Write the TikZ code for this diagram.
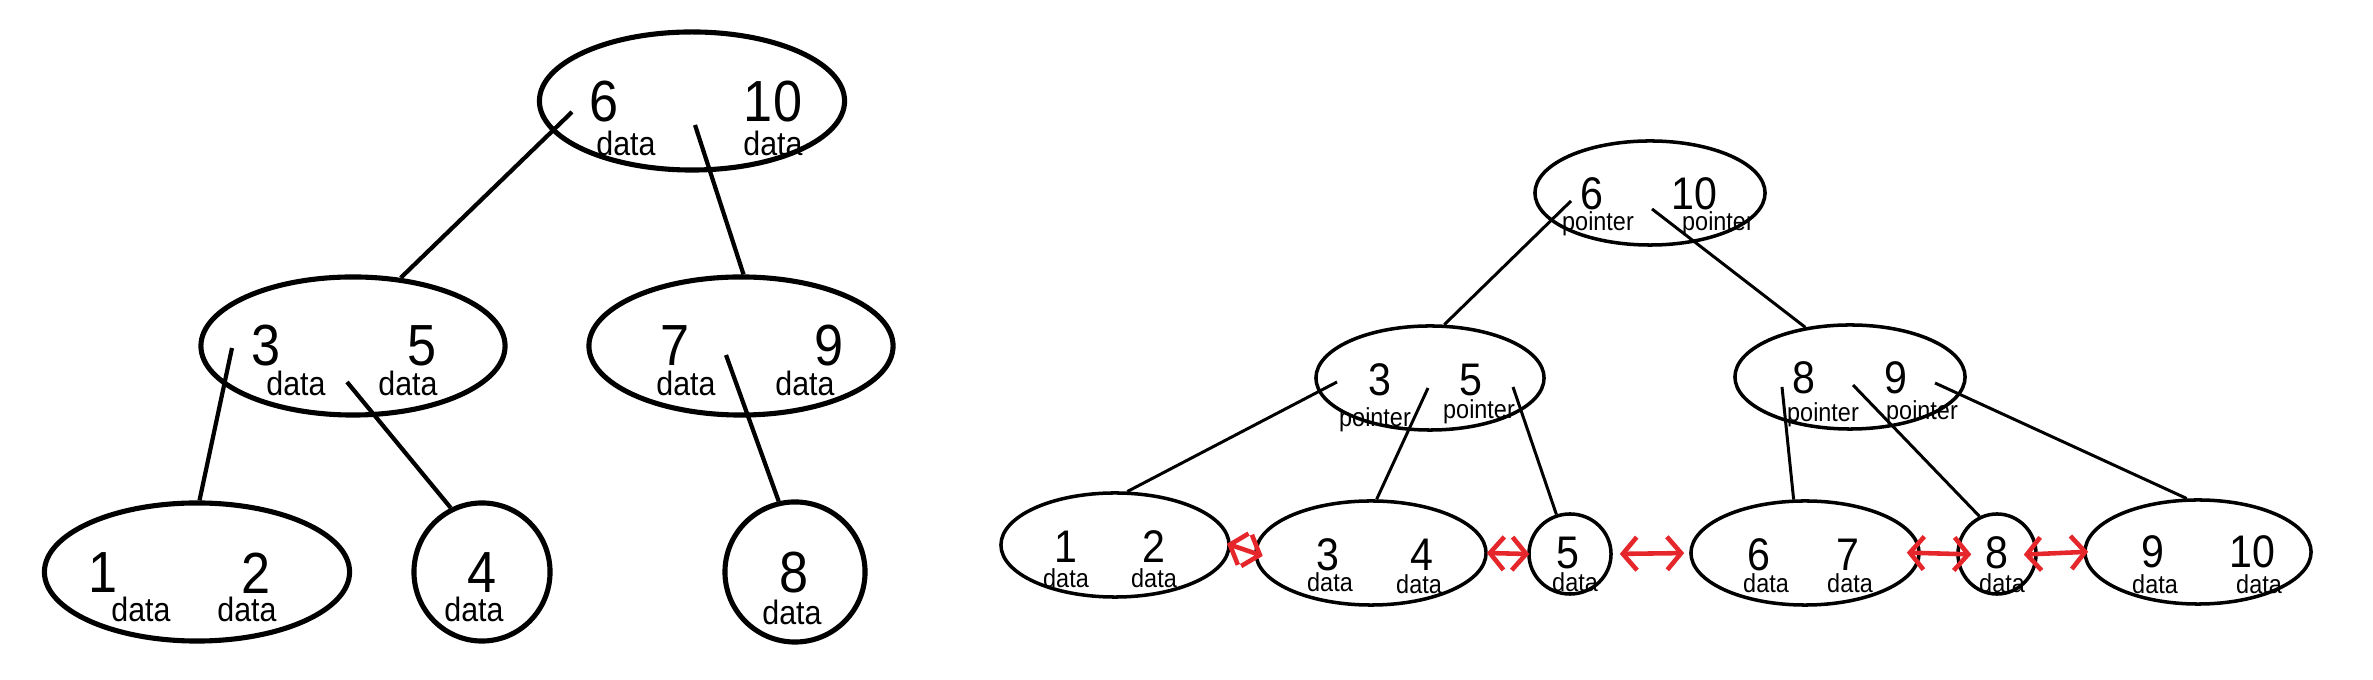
\documentclass[tikz,border=0pt]{standalone}
\usepackage{fontspec}
\setmainfont{Liberation Sans}[FakeStretch=0.9]
\usetikzlibrary{shapes.geometric,arrows.meta}
\definecolor{arrred}{HTML}{E5262B}
\begin{document}
\begin{tikzpicture}[x=0.01cm,y=-0.01cm,
  lell/.style={ellipse,draw,line width=1.45pt,inner sep=0pt},
  rell/.style={ellipse,draw,line width=1.0pt,inner sep=0pt},
  lnum/.style={inner sep=0pt,font=\fontsize{16.5}{16.5}\selectfont},
  ldat/.style={inner sep=0pt,font=\fontsize{9.6}{9.6}\selectfont},
  rnum/.style={inner sep=0pt,font=\fontsize{13}{13}\selectfont},
  rdat/.style={inner sep=0pt,font=\fontsize{7.4}{7.4}\selectfont},
  ledge/.style={line width=1.2pt},
  redge/.style={line width=0.85pt},
  link/.style={draw=arrred,line width=1.3pt,{Straight Barb[length=4pt,width=9.4pt]}-{Straight Barb[length=4pt,width=9.4pt]}}
]
\useasboundingbox[fill=white] (0,0) rectangle (2373,680);

% ---------- left tree ----------
\node[lell,minimum width=3.05cm,minimum height=1.38cm] (LR) at (692,101) {};
\node[lell,minimum width=3.04cm,minimum height=1.38cm] (N35) at (353,346) {};
\node[lell,minimum width=3.04cm,minimum height=1.38cm] (N79) at (741,346) {};
\node[lell,minimum width=3.05cm,minimum height=1.38cm] (L12) at (197,572) {};
\node[lell,minimum width=1.36cm,minimum height=1.38cm] (L4) at (482,572) {};
\node[lell,minimum width=1.40cm,minimum height=1.40cm] (L8) at (795,572) {};

\node[lnum] (tLR1) at (604,102) {6};
\node[lnum] (tLR2) at (773,102) {10};
\node[ldat] (dLR1) at (626,143) {data};
\node[ldat] (dLR2) at (773,143) {data};
\node[lnum] (tN1) at (266,346) {3};
\node[lnum] (tN2) at (422,346) {5};
\node[ldat] (dN1) at (296,383) {data};
\node[ldat] (dN2) at (408,383) {data};
\node[lnum] (tM1) at (675,346) {7};
\node[lnum] (tM2) at (829,346) {9};
\node[ldat] (dM1) at (686,383) {data};
\node[ldat] (dM2) at (805,383) {data};
\node[lnum] (tL1) at (103,573) {1};
\node[lnum] (tL2) at (256,573) {2};
\node[ldat] (dL1) at (141,609) {data};
\node[ldat] (dL2) at (247,609) {data};
\node[lnum] (tL4) at (482,573) {4};
\node[ldat] (dL4) at (474,609) {data};
\node[lnum] (tL8) at (794,573) {8};
\node[ldat] (dL8) at (792,612) {data};

\coordinate (e1) at (572,112);
\coordinate (e2) at (695,125);
\coordinate (e3) at (232,348);
\coordinate (e4) at (347,382);
\coordinate (e5) at (726,355);
\draw[ledge] (e1) -- (N35.55);
\draw[ledge] (e2) -- (N79.88);
\draw[ledge] (e3) -- (L12.88);
\draw[ledge] (e4) -- (L4.116);
\draw[ledge] (e5) -- (L8.103);

% ---------- right tree ----------
\node[rell,minimum width=2.30cm,minimum height=1.04cm] (R) at (1650,193) {};
\node[rell,minimum width=2.28cm,minimum height=1.04cm] (R35) at (1430,378) {};
\node[rell,minimum width=2.30cm,minimum height=1.04cm] (R89) at (1850,377) {};
\node[rell,minimum width=2.28cm,minimum height=1.04cm] (RL12) at (1115,545) {};
\node[rell,minimum width=2.30cm,minimum height=1.04cm] (RL34) at (1371,553) {};
\node[rell,minimum width=0.82cm,minimum height=0.80cm] (RL5) at (1570,554) {};
\node[rell,minimum width=2.28cm,minimum height=1.04cm] (RL67) at (1805,553) {};
\node[rell,minimum width=0.78cm,minimum height=0.80cm] (RL8) at (1997,554) {};
\node[rell,minimum width=2.26cm,minimum height=1.04cm] (RL910) at (2198,552) {};

\node[rnum] (uR1) at (1592,194) {6};
\node[rnum] (uR2) at (1694,194) {10};
\node[rdat] (pR1) at (1598,224) {pointer};
\node[rdat] (pR2) at (1718,224) {pointer};
\node[rnum] (uA1) at (1380,380) {3};
\node[rnum] (uA2) at (1471,380) {5};
\node[rdat] (pA1) at (1375,420) {pointer};
\node[rdat] (pA2) at (1479,412) {pointer};
\node[rnum] (uB1) at (1804,378) {8};
\node[rnum] (uB2) at (1896,378) {9};
\node[rdat] (pB1) at (1823,415) {pointer};
\node[rdat] (pB2) at (1922,413) {pointer};

\node[rnum] (v1) at (1066,547) {1};
\node[rnum] (v2) at (1154,547) {2};
\node[rdat] (w1) at (1066,578) {data};
\node[rdat] (w2) at (1154,578) {data};
\node[rnum] (v3) at (1328,555) {3};
\node[rnum] (v4) at (1422,555) {4};
\node[rdat] (w3) at (1330,582) {data};
\node[rdat] (w4) at (1419,584) {data};
\node[rnum] (v5) at (1568,553) {5};
\node[rdat] (w5) at (1575,582) {data};
\node[rnum] (v6) at (1759,555) {6};
\node[rnum] (v7) at (1848,555) {7};
\node[rdat] (w6) at (1766,583) {data};
\node[rdat] (w7) at (1850,583) {data};
\node[rnum] (v8) at (1997,553) {8};
\node[rdat] (w8) at (2002,583) {data};
\node[rnum] (v9) at (2153,552) {9};
\node[rnum] (v10) at (2252,552) {10};
\node[rdat] (w9) at (2155,584) {data};
\node[rdat] (w10) at (2259,584) {data};

\coordinate (f1) at (1571,201);
\coordinate (f2) at (1652,209);
\coordinate (f3) at (1337,382);
\coordinate (f4) at (1428,388);
\coordinate (f5) at (1513,387);
\coordinate (f6) at (1782,387);
\coordinate (f7) at (1853,385);
\coordinate (f8) at (1935,383);
\draw[redge] (f1) -- (R35.75);
\draw[redge] (f2) -- (R89.132);
\draw[redge] (f3) -- (RL12.77);
\draw[redge] (f4) -- (RL34.84);
\draw[redge] (f5) -- (RL5.109);
\draw[redge] (f6) -- (RL67.102);
\draw[redge] (f7) -- (RL8.115);
\draw[redge] (f8) -- (RL910.102);

% ---------- leaf links ----------
\draw[link,shorten <=-0.04cm,shorten >=-0.09cm] (RL12.east) -- (RL34.west);
\draw[link,shorten <=-0.01cm,shorten >=-0.02cm] (RL34.east) -- (RL5.west);
\draw[link,shorten <=0.07cm,shorten >=0.05cm] (RL5.east) -- (RL67.west);
\draw[link,shorten <=-0.14cm,shorten >=-0.15cm] (RL67.east) -- (RL8.west);
\draw[link,shorten <=-0.14cm,shorten >=-0.05cm] (RL8.east) -- (RL910.west);
\end{tikzpicture}
\end{document}
